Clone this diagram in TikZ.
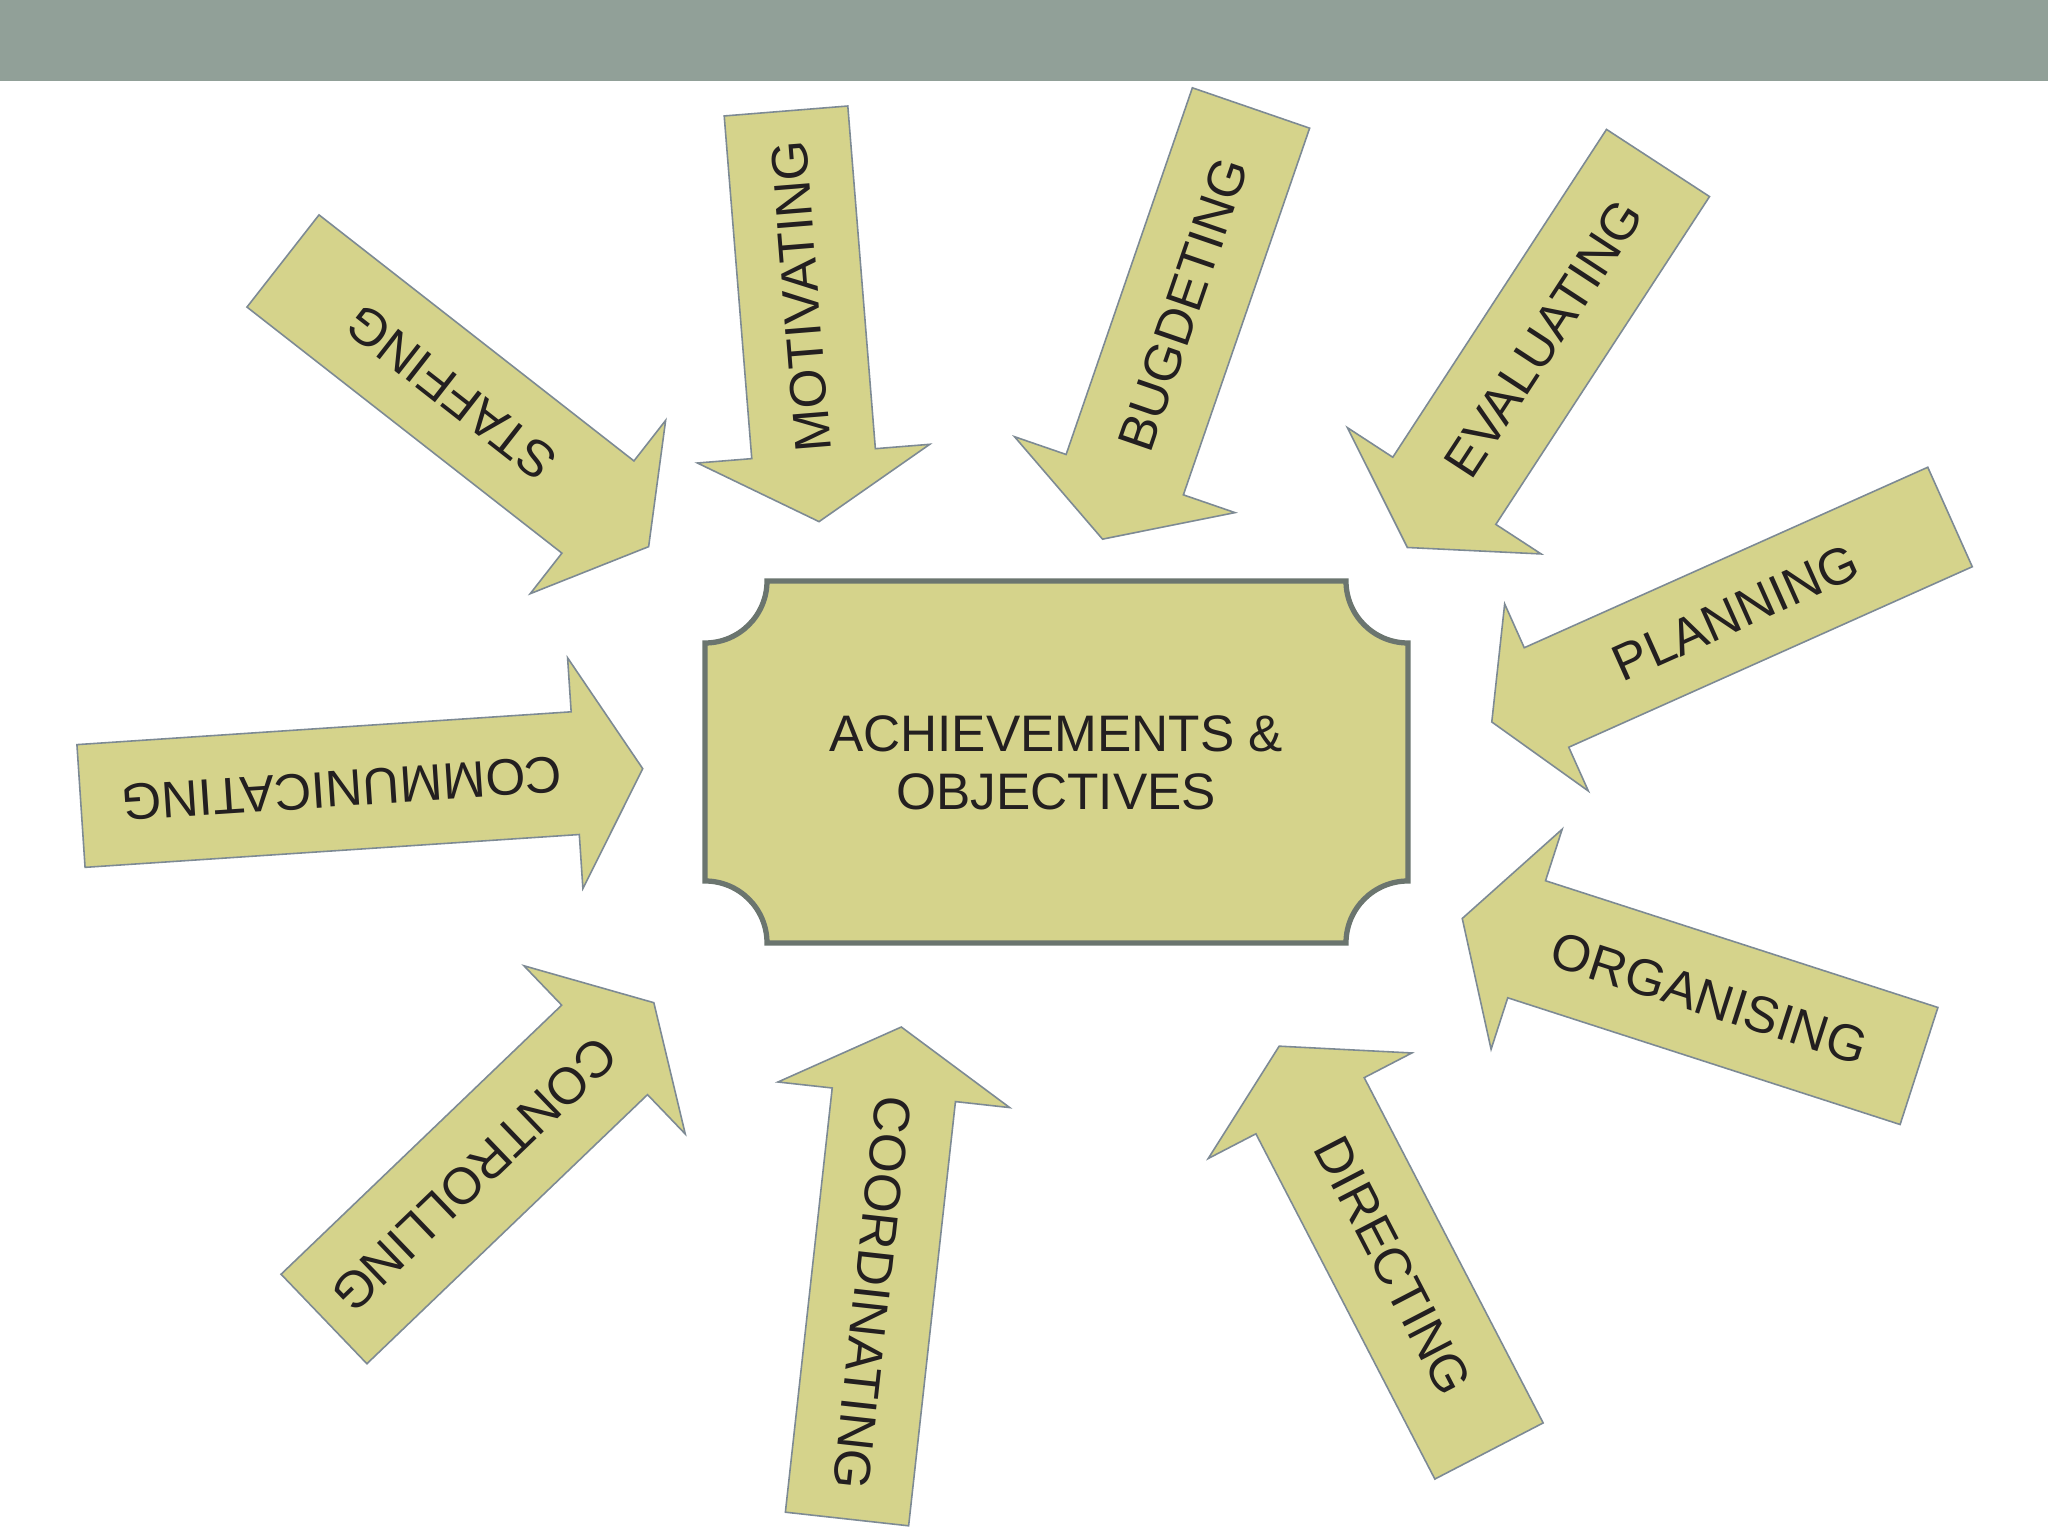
\documentclass[tikz,border=0pt]{standalone}
\usepackage{xcolor}
\usepackage{fontspec}
\setmainfont{Liberation Sans}
\usepackage{tikz}
\usetikzlibrary{calc}

\definecolor{bandgrey}{RGB}{145,160,152}
\definecolor{arrowfill}{RGB}{213,211,139}
\definecolor{arrowline}{RGB}{125,138,148}
\definecolor{boxline}{RGB}{107,117,111}
\definecolor{labeltext}{RGB}{35,31,32}

\begin{document}
\begin{tikzpicture}[x=0.01cm,y=0.01cm,
    blockarrow/.style={fill=arrowfill,draw=arrowline,line width=0.45pt,line join=miter},
    arrowlabel/.style={text=labeltext,font=\fontsize{14.6}{16.6}\selectfont,inner sep=0pt},
    plaque/.style={fill=arrowfill,draw=boxline,line width=1.5pt}]
\useasboundingbox (0,0) rectangle (2048,1536);
\fill[white] (0,0) rectangle (2048,1536);
\fill[bandgrey] (0,1455) rectangle (2048,1536);
\draw[plaque] (767,955) -- (1346,955) arc[start angle=180,end angle=270,radius=62]
   -- (1408,655) arc[start angle=90,end angle=180,radius=62]
   -- (767,593) arc[start angle=0,end angle=90,radius=62]
   -- (705,893) arc[start angle=270,end angle=360,radius=62] -- cycle;
\node[arrowlabel,align=center] (goal) at (1056,773) {ACHIEVEMENTS \&\\OBJECTIVES};
\foreach \nm/\tx/\ty/\rot/\arrlen/\sw/\lbl in {staffing/283/1275/-38.0/464/117/STAFFING,
    motivating/786/1425/-85.4/412/124/MOTIVATING,
    bugdeting/1251/1428/-109.0/456/124/BUGDETING,
    evaluating/1658/1373/-123.1/459/123/EVALUATING,
    planning/1950/1019/-155.9/502/109/PLANNING,
    organising/1919/470/162.1/480/123/ORGANISING,
    directing/1489/85/117.4/456/122/DIRECTING,
    coordinating/847/17/83.7/495/124/COORDINATING,
    controlling/324/217/43.8/457/124/CONTROLLING,
    communicating/81/730/3.8/563/123/COMMUNICATING}
{
  \pgfmathsetmacro{\shaft}{\arrlen-0.55*\sw}
  \begin{scope}[shift={(\tx,\ty)},rotate=\rot]
    \draw[blockarrow] (0,0.5*\sw) -- (\shaft,0.5*\sw) -- (\shaft,0.94*\sw) -- (\arrlen,0)
       -- (\shaft,-0.94*\sw) -- (\shaft,-0.5*\sw) -- (0,-0.5*\sw) -- cycle;
    \node[arrowlabel,transform shape,rotate=180] (\nm) at (0.5*\shaft+14,0) {\lbl};
  \end{scope}
}
\end{tikzpicture}
\end{document}
